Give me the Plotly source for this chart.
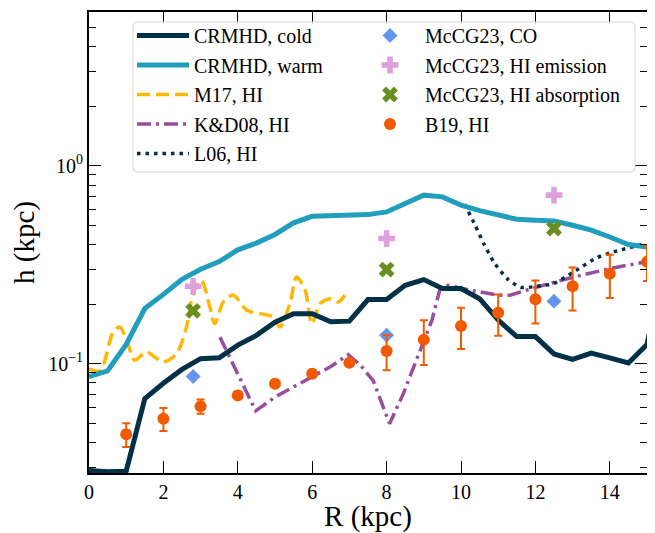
import plotly.graph_objects as go

# ---------------- data ----------------
R_sim = [0.0, 0.5, 1.0, 1.5, 2.0, 2.5, 3.0, 3.5, 4.0, 4.5, 5.0, 5.5, 6.0, 6.5, 7.0, 7.5,
         8.0, 8.5, 9.0, 9.5, 10.0, 10.5, 11.0, 11.5, 12.0, 12.5, 13.0, 13.5, 14.0, 14.5, 15.0, 15.5]
h_cold = [0.0288, 0.0284, 0.0286, 0.0665, 0.0795, 0.0935, 0.106, 0.107, 0.124, 0.139, 0.162, 0.179,
          0.179, 0.163, 0.164, 0.211, 0.211, 0.249, 0.266, 0.240, 0.240, 0.213, 0.166, 0.137,
          0.137, 0.112, 0.105, 0.113, 0.107, 0.1007, 0.125, 0.35]
h_warm = [0.086, 0.092, 0.125, 0.190, 0.224, 0.267, 0.300, 0.328, 0.376, 0.407, 0.450, 0.515,
          0.556, 0.561, 0.567, 0.567, 0.585, 0.645, 0.711, 0.697, 0.633, 0.594, 0.563, 0.537,
          0.531, 0.527, 0.501, 0.473, 0.437, 0.400, 0.389, 0.385]

R_m17 = [0.0, 0.3, 0.65, 0.83, 1.05, 1.23, 1.54, 1.99, 2.35, 2.62, 2.8, 3.02, 3.25, 3.38,
         3.61, 3.88, 4.24, 4.6, 4.95, 5.13, 5.4, 5.58, 5.81, 5.99, 6.21, 6.48, 6.7, 6.88]
h_m17 = [0.094, 0.092, 0.1445, 0.153, 0.125, 0.104, 0.1145, 0.102, 0.112, 0.153, 0.226, 0.264,
         0.193, 0.159, 0.205, 0.222, 0.186, 0.179, 0.172, 0.153, 0.201, 0.274, 0.235, 0.159,
         0.201, 0.213, 0.205, 0.222]

R_kd08 = [3.52, 4.48, 5.0, 5.49, 5.99, 6.48, 6.97, 7.3, 7.64, 8.08, 8.45, 8.9, 9.22, 9.44,
          9.66, 10.25, 11.0, 11.32, 12.04, 13.03, 14.02, 14.96]
h_kd08 = [0.136, 0.0577, 0.0678, 0.0762, 0.0855, 0.0962, 0.111, 0.098, 0.082, 0.0497, 0.0705,
          0.117, 0.166, 0.240, 0.249, 0.235, 0.222, 0.222, 0.244, 0.274, 0.303, 0.327]

R_l06 = [10.1, 10.38, 10.61, 10.88, 11.24, 11.6, 12.04, 12.49, 13.03, 13.66, 14.1, 14.96]
h_l06 = [0.640, 0.501, 0.405, 0.327, 0.269, 0.243, 0.246, 0.254, 0.291, 0.344, 0.367, 0.405]

R_mccg = [2.8, 8.0, 12.5]
h_co = [0.086, 0.139, 0.207]
h_hi_em = [0.246, 0.429, 0.711]
h_hi_abs = [0.185, 0.299, 0.482]

R_b19 = [1, 2, 3, 4, 5, 6, 7, 8, 9, 10, 11, 12, 13, 14, 15]
h_b19 = [0.0439, 0.0527, 0.0608, 0.0691, 0.0792, 0.0890, 0.101, 0.116, 0.132, 0.155, 0.181,
         0.2115, 0.246, 0.285, 0.327]
e_b19 = [0.006, 0.007, 0.005, 0.003, 0.003, 0.003, 0.003, 0.0235, 0.0335, 0.0365, 0.0425,
         0.052, 0.0605, 0.0705, 0.065]

x_tickvals = [0, 2, 4, 6, 8, 10, 12, 14]
y_tickvals = [0.1, 1.0]
y_ticktext = ["10<sup>−1</sup>", "10<sup>0</sup>"]
y_minor = [0.03, 0.04, 0.05, 0.06, 0.07, 0.08, 0.09, 0.2, 0.3, 0.4, 0.5, 0.6, 0.7, 0.8, 0.9,
           2, 3, 4, 5]

# ---------------- style ----------------
C_COLD = "#023047"
C_WARM = "#219ebc"
C_M17 = "#ffb703"
C_KD = "#984e9b"
C_B19 = "#f25a02"
C_CO = "#6495ed"
C_EM = "#dda0dd"
C_ABS = "#6b8e23"
FONT = "Liberation Serif"

# the page body has an 8px margin; size the figure so the plot lands in place
OFF = 8
W, H = 655 - OFF, 533 - OFF
ML, MR, MT, MB = 89 - OFF, 8, 12 - OFF, 60
PW, PH = W - ML - MR, H - MT - MB


def px2x(px):  # absolute window px -> paper
    return (px - (ML + OFF)) / PW


def px2y(py):
    return (MT + OFF + PH - py) / PH


fig = go.Figure()

fig.add_trace(go.Scatter(x=R_m17, y=h_m17, mode="lines", name="M17, HI",
                         line=dict(color=C_M17, width=3.5, dash="13px,6px", shape="spline", smoothing=0.8),
                         legend="legend", legendrank=3, legendgroup="g3"))
fig.add_trace(go.Scatter(x=R_kd08, y=h_kd08, mode="lines", name="K&D08, HI",
                         line=dict(color=C_KD, width=3.5, dash="14px,5px,3px,5px"),
                         legend="legend", legendrank=4, legendgroup="g4"))
fig.add_trace(go.Scatter(x=R_l06, y=h_l06, mode="lines", name="L06, HI",
                         line=dict(color=C_COLD, width=3.5, dash="3.5px,5px", shape="spline", smoothing=0.6),
                         legend="legend", legendrank=5, legendgroup="g5"))
fig.add_trace(go.Scatter(x=R_sim, y=h_warm, mode="lines", name="CRMHD, warm",
                         line=dict(color=C_WARM, width=5),
                         legend="legend", legendrank=2, legendgroup="g2"))
fig.add_trace(go.Scatter(x=R_sim, y=h_cold, mode="lines", name="CRMHD, cold",
                         line=dict(color=C_COLD, width=5),
                         legend="legend", legendrank=1, legendgroup="g1"))

fig.add_trace(go.Scatter(x=R_mccg, y=h_co, mode="markers", name="McCG23, CO",
                         marker=dict(symbol="diamond", size=11.5, color=C_CO),
                         legend="legend2", legendrank=6, legendgroup="g6"))
fig.add_trace(go.Scatter(x=R_mccg, y=h_hi_em, mode="markers", name="McCG23, HI emission",
                         marker=dict(symbol="cross", size=14, color=C_EM),
                         legend="legend2", legendrank=7, legendgroup="g7"))
fig.add_trace(go.Scatter(x=R_mccg, y=h_hi_abs, mode="markers", name="McCG23, HI absorption",
                         marker=dict(symbol="x", size=14, color=C_ABS),
                         legend="legend2", legendrank=8, legendgroup="g8"))
fig.add_trace(go.Scatter(x=R_b19, y=h_b19, mode="markers", name="B19, HI",
                         marker=dict(symbol="circle", size=12, color=C_B19),
                         error_y=dict(type="data", array=e_b19, color=C_B19, thickness=2, width=4),
                         legend="legend2", legendrank=9, legendgroup="g9"))

# legend frame (rounded rectangle)
x0, x1 = px2x(133), px2x(635)
y0, y1 = px2y(172), px2y(22)
rx, ry = 4 / PW, 4 / PH
path = (f"M{x0+rx},{y0} L{x1-rx},{y0} Q{x1},{y0} {x1},{y0+ry} L{x1},{y1-ry} Q{x1},{y1} {x1-rx},{y1} "
        f"L{x0+rx},{y1} Q{x0},{y1} {x0},{y1-ry} L{x0},{y0+ry} Q{x0},{y0} {x0+rx},{y0} Z")
fig.add_shape(type="path", path=path, xref="paper", yref="paper",
              line=dict(color="#d6d6d6", width=1), fillcolor="rgba(255,255,255,0.8)", layer="above")

leg_common = dict(bgcolor="rgba(0,0,0,0)", borderwidth=0, xanchor="left", yanchor="top",
                  font=dict(family=FONT, size=20, color="black"),
                  traceorder="grouped", tracegroupgap=0.5)

fig.update_layout(
    width=W, height=H,
    margin=dict(l=ML, r=MR, t=MT, b=MB, autoexpand=False),
    paper_bgcolor="white", plot_bgcolor="white",
    font=dict(family=FONT, size=20, color="black"),
    showlegend=True,
    legend=dict(x=px2x(132), y=px2y(16), itemwidth=52, **leg_common),
    legend2=dict(x=px2x(355), y=px2y(16), itemwidth=60, **leg_common),
    xaxis=dict(range=[0, 15], tickvals=x_tickvals, ticks="inside", ticklen=12, tickwidth=1.3,
               tickcolor="black", showline=True, linecolor="black", linewidth=1.8, mirror="ticks",
               showgrid=False, zeroline=False, tickfont=dict(family=FONT, size=20, color="black"),
               automargin=True,
               title=dict(text="R (kpc)", font=dict(family=FONT, size=29, color="black"), standoff=1)),
    yaxis=dict(type="log", range=[-1.553, 0.778], tickvals=y_tickvals, ticktext=y_ticktext,
               ticks="inside", ticklen=12, tickwidth=1.3, tickcolor="black",
               showline=True, linecolor="black", linewidth=1.8, mirror="ticks",
               showgrid=False, zeroline=False, tickfont=dict(family=FONT, size=20, color="black"),
               minor=dict(tickvals=y_minor, ticks="inside", ticklen=7, tickwidth=1.1,
                          tickcolor="black", showgrid=False),
               title=dict(text="h (kpc)", font=dict(family=FONT, size=29, color="black"), standoff=6)),
)

fig.write_html("out.html")
